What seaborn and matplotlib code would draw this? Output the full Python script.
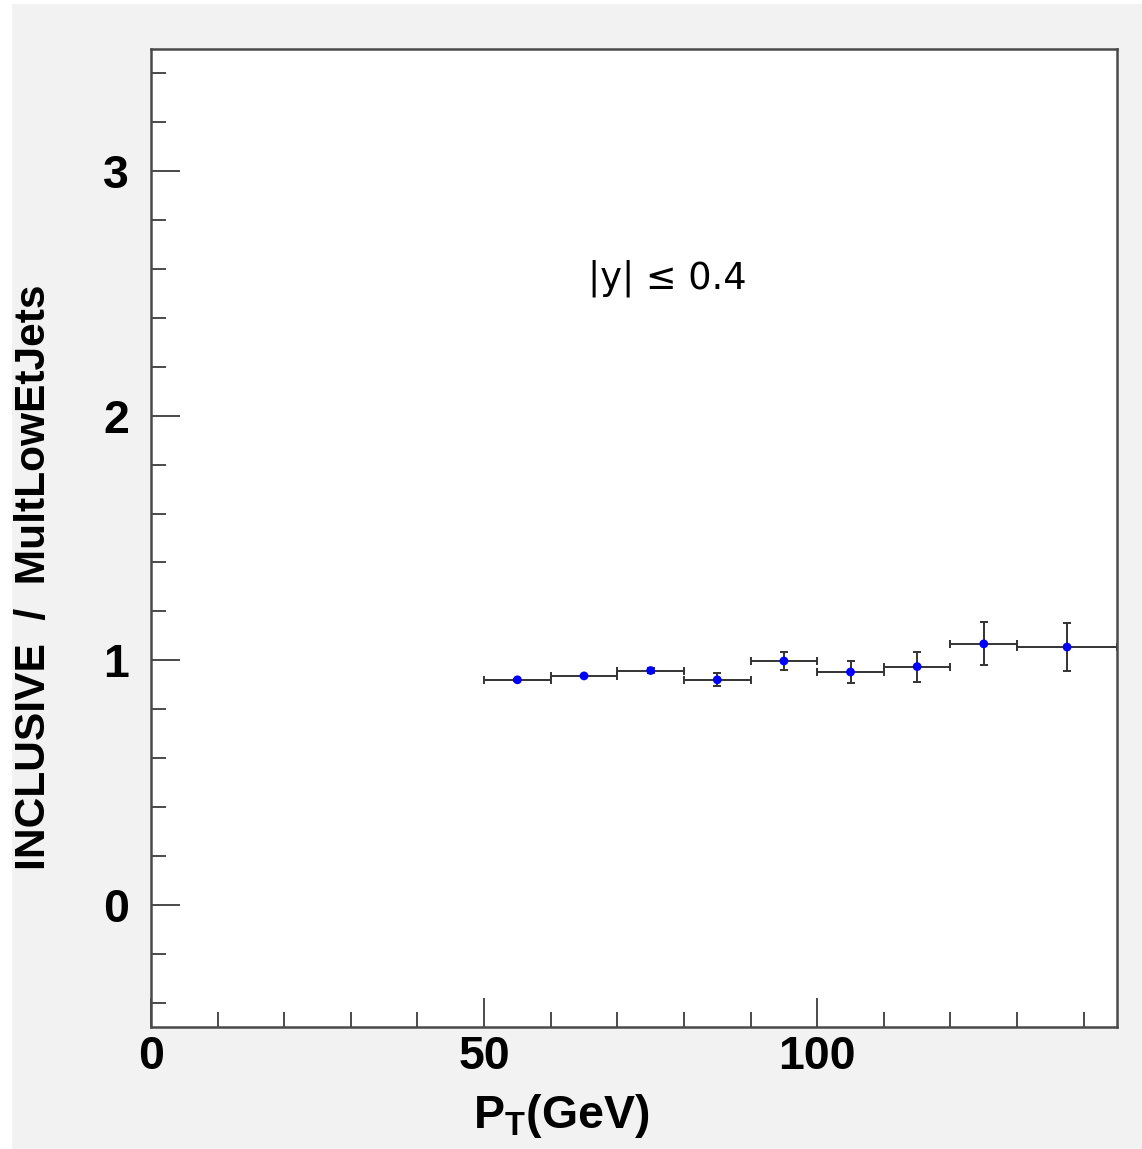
import matplotlib
matplotlib.use("Agg")
import matplotlib.pyplot as plt
from matplotlib.patches import Rectangle
from matplotlib.ticker import MultipleLocator
import pandas as pd
import seaborn as sns

# Jet pT bins (GeV) and the INCLUSIVE / MultLowEtJets ratio per bin
bin_low = [50, 60, 70, 80, 90, 100, 110, 120, 130]
bin_high = [60, 70, 80, 90, 100, 110, 120, 130, 145]
ratio = [0.920, 0.936, 0.958, 0.920, 0.997, 0.952, 0.974, 1.067, 1.054]
ratio_err = [0.005, 0.005, 0.012, 0.026, 0.037, 0.046, 0.061, 0.088, 0.097]

df = pd.DataFrame({"lo": bin_low, "hi": bin_high, "ratio": ratio, "err": ratio_err})
df["pt"] = 0.5 * (df["lo"] + df["hi"])
df["half"] = 0.5 * (df["hi"] - df["lo"])

sns.set_style("white")
plt.rcParams["font.family"] = ["Liberation Sans", "DejaVu Sans"]
plt.rcParams["text.color"] = "black"
plt.rcParams["axes.labelcolor"] = "black"
plt.rcParams["xtick.labelcolor"] = "black"
plt.rcParams["ytick.labelcolor"] = "black"
plt.rcParams["mathtext.fontset"] = "custom"
plt.rcParams["mathtext.rm"] = "Liberation Sans:bold"
plt.rcParams["mathtext.it"] = "Liberation Sans:bold"
plt.rcParams["mathtext.bf"] = "Liberation Sans:bold"
frame_col = "#4a4a4a"

fig = plt.figure(figsize=(11.42, 11.49), dpi=100, facecolor="white")
fig.patches.append(Rectangle((12 / 1142, 0), 1, 1 - 4 / 1149, transform=fig.transFigure,
                             facecolor="#f2f2f2", edgecolor="none", zorder=-10))
ax = fig.add_axes([151 / 1142, 1 - 1027 / 1149, (1117 - 151) / 1142, (1027 - 49) / 1149])
ax.set_facecolor("white")

# error bars: bin width horizontally, statistical error vertically
ax.errorbar(df["pt"], df["ratio"], xerr=df["half"], yerr=df["err"], fmt="none",
            ecolor="#333333", elinewidth=1.4, capsize=2.6, capthick=1.4, zorder=2)
sns.scatterplot(data=df, x="pt", y="ratio", ax=ax, color="#0000ff", s=40,
                edgecolor="none", zorder=3, legend=False)

ax.set_xlim(0, 145)
ax.set_ylim(-0.5, 3.5)
ax.xaxis.set_major_locator(MultipleLocator(50))
ax.xaxis.set_minor_locator(MultipleLocator(10))
ax.yaxis.set_major_locator(MultipleLocator(1))
ax.yaxis.set_minor_locator(MultipleLocator(0.2))

for s in ax.spines.values():
    s.set_color(frame_col)
    s.set_linewidth(1.8)

ax.tick_params(which="both", direction="in", color=frame_col, width=1.4,
               top=False, right=False, bottom=True, left=True)
ax.tick_params(which="major", length=21)
ax.tick_params(which="minor", length=10.5)
ax.tick_params(axis="y", which="major", pad=16, labelsize=33.5)
ax.tick_params(axis="x", which="major", pad=6, labelsize=33.5)

for lab in ax.get_yticklabels() + ax.get_xticklabels():
    lab.set_fontweight("bold")

ax.set_xlabel(r"$\mathrm{P_{T}(GeV)}$", fontsize=33.5)
ax.xaxis.set_label_coords(0.425, -0.066)
ax.set_ylabel("INCLUSIVE  /  MultLowEtJets", fontsize=30.6, fontweight="bold")
ax.yaxis.set_label_coords(-0.1, 0.46)

ax.text(0.535, 0.766, "|y| \u2264 0.4", transform=ax.transAxes, ha="center", va="center",
        fontsize=26.5, family="DejaVu Sans")

fig.savefig("out.png", dpi=100, facecolor=fig.get_facecolor())
